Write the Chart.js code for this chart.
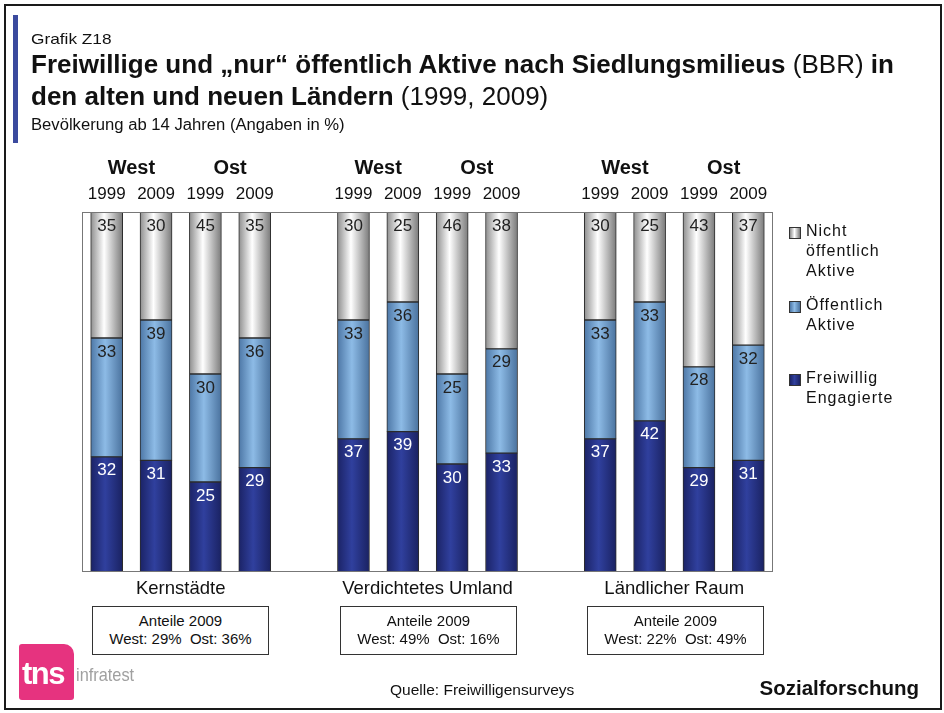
<!DOCTYPE html>
<html lang="de">
<head>
<meta charset="utf-8">
<script src="https://cdn.jsdelivr.net/npm/chart.js@4.4.0/dist/chart.umd.min.js"></script>
<style>
  body { margin: 0; background: #fff; font-family: "Liberation Sans", Arial, sans-serif; color: #111; }
  #page { position: relative; width: 944px; height: 713px; overflow: hidden; }
  #frame { position: absolute; left: 4px; top: 4px; width: 934px; height: 702px; border: 2px solid #1a1a1a; }
  #bluebar { position: absolute; left: 13px; top: 15px; width: 5px; height: 128px; background: #3b4a9e; }
  .t { position: absolute; white-space: nowrap; }
  #grafik { left: 31px; top: 30px; font-size: 15px; transform: scaleX(1.15); transform-origin: left; }
  #title { left: 31px; top: 48px; font-size: 26px; line-height: 32px; }
  #title b { font-weight: bold; }
  #sub { left: 31px; top: 116px; font-size: 16px; transform: scaleX(1.04); transform-origin: left; }
  canvas { position: absolute; left: 0; top: 0; }
  .box { position: absolute; top: 606px; height: 49px; border: 1px solid #333; background: #fff;
         font-size: 15px; text-align: center; line-height: 18px; padding-top: 5px; box-sizing: border-box; }
  #legend { position: absolute; left: 789px; top: 221px; font-size: 16px; letter-spacing: 1px; line-height: 20px; }
  .li { position: relative; padding-left: 17px; margin-bottom: 14px; }
  .sw { position: absolute; left: 0; top: 6px; width: 10px; height: 10px; border: 1px solid #333; }
  #logo { position: absolute; left: 19px; top: 644px; width: 55px; height: 56px; background: #e6337f;
          border-radius: 3px 10px 3px 3px; }
  #tns { left: 22px; top: 656px; font-size: 31px; color: #fff; font-weight: bold; letter-spacing: -1.5px; }
  #infra { left: 76px; top: 664px; font-size: 19px; color: #a0a0a0; transform: scaleX(0.86); transform-origin: left; }
  #quelle { left: 390px; top: 681px; font-size: 15.5px; }
  #sozial { right: 25px; top: 676px; font-size: 20.5px; font-weight: bold; }
</style>
</head>
<body>
<div id="page">
  <canvas id="chart" width="944" height="713"></canvas>
  <div id="frame"></div>
  <div id="bluebar"></div>
  <div class="t" id="grafik">Grafik Z18</div>
  <div class="t" id="title"><b>Freiwillige und „nur“ öffentlich Aktive nach Siedlungsmilieus</b> (BBR) <b>in</b><br><b>den alten und neuen Ländern</b> (1999, 2009)</div>
  <div class="t" id="sub">Bevölkerung ab 14 Jahren (Angaben in %)</div>
  <div id="legend"></div>
  <div id="boxes"></div>
  <div id="logo"></div>
  <div class="t" id="tns">tns</div>
  <div class="t" id="infra">infratest</div>
  <div class="t" id="quelle">Quelle: Freiwilligensurveys</div>
  <div class="t" id="sozial">Sozialforschung</div>
</div>
<script>
// slots: 4 bars per group, one empty slot between groups
const years = ['1999', '2009', '1999', '2009', '', '1999', '2009', '1999', '2009', '', '1999', '2009', '1999', '2009'];
const regions = ['West', 'Ost'];
const groups = ['Kernstädte', 'Verdichtetes Umland', 'Ländlicher Raum'];

const freiwillig = [32, 31, 25, 29, null, 37, 39, 30, 33, null, 37, 42, 29, 31];
const oeffentlich = [33, 39, 30, 36, null, 33, 36, 25, 29, null, 33, 33, 28, 32];
const nicht = [35, 30, 45, 35, null, 30, 25, 46, 38, null, 30, 25, 43, 37];

// Anteile 2009 (West, Ost)
const anteileWest = [29, 49, 22];
const anteileOst = [36, 16, 49];

const BAR_W = 32;

// horizontal "cylinder" shading per bar
function shade(stops) {
  return function (c) {
    const chart = c.chart;
    if (!chart.chartArea || c.dataIndex === undefined) return stops[1][1];
    const x = chart.scales.x.getPixelForValue(c.dataIndex);
    const g = chart.ctx.createLinearGradient(x - BAR_W / 2, 0, x + BAR_W / 2, 0);
    stops.forEach(s => g.addColorStop(s[0], s[1]));
    return g;
  };
}
const darkStops = [[0, '#1b2366'], [0.45, '#30409e'], [1, '#1a2262']];
const lightStops = [[0, '#4d77a6'], [0.45, '#8dbbe6'], [1, '#4a729e']];
const greyStops = [[0, '#8e8e8e'], [0.42, '#ffffff'], [1, '#7a7a7a']];

// text around the plot: years, West/Ost, group names, frame, values
const extras = {
  id: 'extras',
  afterDatasetsDraw(chart) {
    const ctx = chart.ctx;
    const x = chart.scales.x;
    const a = chart.chartArea;
    ctx.save();
    ctx.strokeStyle = '#777';
    ctx.lineWidth = 1;
    ctx.strokeRect(a.left + 0.5, a.top + 0.5, a.right - a.left - 1, a.bottom - a.top - 1);

    // value labels near top of each segment
    chart.data.datasets.forEach((ds, di) => {
      const meta = chart.getDatasetMeta(di);
      meta.data.forEach((el, i) => {
        if (ds.data[i] == null) return;
        ctx.font = '17px "Liberation Sans", Arial';
        ctx.fillStyle = di === 0 ? '#fff' : '#222';
        ctx.textAlign = 'center';
        ctx.textBaseline = 'middle';
        ctx.fillText(ds.data[i], el.x, Math.max(el.y, a.top) + 14);
      });
    });

    ctx.fillStyle = '#111';
    ctx.textAlign = 'center';
    ctx.textBaseline = 'middle';
    years.forEach((y, i) => {
      if (!y) return;
      ctx.font = '17px "Liberation Sans", Arial';
      ctx.fillText(y, x.getPixelForValue(i), 194);
    });
    groups.forEach((g, gi) => {
      const s = gi * 5;
      ctx.font = 'bold 20px "Liberation Sans", Arial';
      regions.forEach((r, ri) => {
        const cx = (x.getPixelForValue(s + ri * 2) + x.getPixelForValue(s + ri * 2 + 1)) / 2;
        ctx.fillText(r, cx, 168);
      });
      ctx.font = '18.5px "Liberation Sans", Arial';
      const mid = (x.getPixelForValue(s) + x.getPixelForValue(s + 3)) / 2;
      ctx.fillText(g, mid, 589);
    });
    ctx.restore();
  }
};

const chart = new Chart(document.getElementById('chart'), {
  type: 'bar',
  data: {
    labels: years,
    datasets: [
      { label: 'Freiwillig Engagierte', data: freiwillig, backgroundColor: shade(darkStops) },
      { label: 'Öffentlich Aktive', data: oeffentlich, backgroundColor: shade(lightStops) },
      { label: 'Nicht öffentlich Aktive', data: nicht, backgroundColor: shade(greyStops) }
    ]
  },
  options: {
    responsive: false,
    animation: false,
    devicePixelRatio: 1,
    layout: { padding: { left: 82, right: 171, top: 212, bottom: 141 } },
    datasets: { bar: { barThickness: BAR_W, borderWidth: 1, borderColor: '#2b2b2b', borderSkipped: false } },
    scales: {
      x: { stacked: true, display: false },
      y: { stacked: true, display: false, min: 0, max: 100 }
    },
    plugins: { legend: { display: false }, tooltip: { enabled: false } }
  },
  plugins: [extras]
});

// legend (top to bottom as in the original)
const legendItems = [
  ['Nicht<br>öffentlich<br>Aktive', 'linear-gradient(90deg,#8e8e8e,#fff 45%,#7a7a7a)'],
  ['Öffentlich<br>Aktive', 'linear-gradient(90deg,#4d77a6,#8dbbe6 45%,#4a729e)'],
  ['Freiwillig<br>Engagierte', 'linear-gradient(90deg,#1b2366,#30409e 45%,#1a2262)']
];
document.getElementById('legend').innerHTML = legendItems.map((it, i) =>
  '<div class="li" style="' + (i === 1 ? 'margin-bottom:33px' : '') + '"><span class="sw" style="background:' + it[1] + '"></span>' + it[0] + '</div>'
).join('');

// Anteile boxes under each group
const boxLeft = [92, 340, 587];
document.getElementById('boxes').innerHTML = groups.map((g, i) =>
  '<div class="box" style="left:' + boxLeft[i] + 'px;width:177px">Anteile 2009<br>West: ' + anteileWest[i] + '%&nbsp; Ost: ' + anteileOst[i] + '%</div>'
).join('');
</script>
</body>
</html>
